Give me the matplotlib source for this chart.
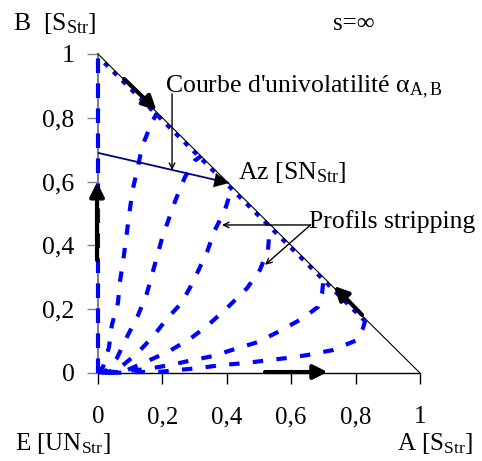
import matplotlib
matplotlib.use("Agg")
from matplotlib import pyplot as plt

plt.rcParams['font.family'] = ['Liberation Serif', 'DejaVu Serif']
plt.rcParams['mathtext.fontset'] = 'custom'
plt.rcParams['mathtext.rm'] = 'Liberation Serif'
plt.rcParams['mathtext.it'] = 'Liberation Serif:italic'

# profils stripping (fractions A, B)
c1_x = [0.0, 0.0]
c1_y = [0.0, 1.0]
c2_x = [0.0, 0.016, 0.034, 0.043, 0.062, 0.068, 0.078, 0.100, 0.109, 0.124, 0.137, 0.168, 0.183]
c2_y = [0.0, 0.020, 0.080, 0.150, 0.220, 0.285, 0.350, 0.520, 0.580, 0.646, 0.710, 0.787, 0.815]
c3_x = [0.0, 0.030, 0.059, 0.090, 0.124, 0.152, 0.200, 0.240, 0.270, 0.300, 0.320]
c3_y = [0.0, 0.010, 0.047, 0.113, 0.180, 0.250, 0.426, 0.540, 0.614, 0.665, 0.680]
c4_x = [0.01, 0.060, 0.120, 0.170, 0.214, 0.260, 0.295, 0.339, 0.363, 0.394, 0.416]
c4_y = [0.0, 0.010, 0.060, 0.113, 0.170, 0.220, 0.285, 0.380, 0.448, 0.510, 0.580]
c5_x = [0.02, 0.093, 0.155, 0.217, 0.286, 0.342, 0.404, 0.463, 0.503, 0.528, 0.534]
c5_y = [0.0, 0.010, 0.038, 0.066, 0.107, 0.150, 0.207, 0.266, 0.323, 0.386, 0.465]
c6_x = [0.03, 0.155, 0.224, 0.292, 0.357, 0.425, 0.497, 0.571, 0.637, 0.683, 0.696, 0.700]
c6_y = [0.0, 0.013, 0.025, 0.040, 0.053, 0.075, 0.097, 0.135, 0.172, 0.207, 0.250, 0.290]
c7_x = [0.04, 0.120, 0.186, 0.255, 0.317, 0.385, 0.457, 0.512, 0.587, 0.649, 0.730, 0.804, 0.823, 0.830]
c7_y = [0.0, 0.003, 0.003, 0.010, 0.016, 0.025, 0.031, 0.038, 0.047, 0.056, 0.072, 0.103, 0.140, 0.165]
# part running along the A-B side
side_x = [0.02, 0.83]
side_y = [0.972, 0.162]

# courbe d'univolatilite
univol_x = [0.0, 0.405]
univol_y = [0.69, 0.596]

ticks = [0, 0.2, 0.4, 0.6, 0.8, 1]
tick_labels = ['0', '0,2', '0,4', '0,6', '0,8', '1']

fig = plt.figure(figsize=(4.82, 4.61), dpi=100)
ax = fig.add_axes([0.2033, 0.1909, 0.668, 0.692])
ax.set_xlim(0, 1)
ax.set_ylim(0, 1)

blue = '#0000ff'
ax.plot(c1_x, c1_y, color=blue, lw=3, ls=(0, (3.5, 2.5)), clip_on=False, zorder=3)
for cx, cy in [(c2_x, c2_y), (c3_x, c3_y), (c4_x, c4_y), (c5_x, c5_y), (c6_x, c6_y), (c7_x, c7_y)]:
    ax.plot(cx, cy, color=blue, lw=3, ls=(0, (2.5, 3.2)), clip_on=False, zorder=3)
ax.plot(side_x, side_y, color=blue, lw=3, ls=(0, (1.2, 1.8)), clip_on=False, zorder=3)

# triangle side
ax.plot([0, 1], [1, 0], color='black', lw=0.8, clip_on=False, zorder=4)
ax.plot(univol_x, univol_y, color='#000080', lw=1.3, zorder=4)
ax.annotate('', xy=(0.415, 0.594), xytext=(0.36, 0.605),
            arrowprops=dict(arrowstyle='-|>', mutation_scale=26, color='black', lw=0.1), zorder=5)

# thick direction arrows
thick = dict(arrowstyle='-|>', mutation_scale=21, color='black', lw=3)
ax.annotate('', xy=(0.188, 0.817), xytext=(0.075, 0.928), arrowprops=thick, annotation_clip=False)
ax.annotate('', xy=(-0.003, 0.607), xytext=(-0.003, 0.345), arrowprops=thick, annotation_clip=False)
ax.annotate('', xy=(0.722, 0.003), xytext=(0.51, 0.003), arrowprops=thick, annotation_clip=False)
ax.annotate('', xy=(0.727, 0.279), xytext=(0.826, 0.176), arrowprops=thick, annotation_clip=False)

# labels with thin arrows
thin = dict(arrowstyle='->', color='black', lw=1.0, shrinkA=0, shrinkB=0)
ax.text(0.208, 0.878, "Courbe d'univolatilité α$_\\mathrm{A,B}$", fontsize=18.5, va='baseline', clip_on=False)
ax.annotate('', xy=(0.23, 0.636), xytext=(0.23, 0.875), arrowprops=thin)
ax.text(0.435, 0.608, 'Az [SN$_\\mathrm{Str}$]', fontsize=18.5, va='baseline')
ax.text(0.655, 0.455, 'Profils stripping', fontsize=18.5, va='baseline', clip_on=False)
ax.annotate('', xy=(0.385, 0.464), xytext=(0.66, 0.464), arrowprops=thin)
ax.annotate('', xy=(0.519, 0.339), xytext=(0.66, 0.464), arrowprops=thin)

fig.text(0.027, 0.935, 'B  [S$_\\mathrm{Str}$]', fontsize=18.5, va='baseline')
fig.text(0.031, 0.024, 'E [UN$_\\mathrm{Str}$]', fontsize=18, va='baseline')
fig.text(0.824, 0.024, 'A [S$_\\mathrm{Str}$]', fontsize=18, va='baseline')
fig.text(0.691, 0.935, 's=∞', fontsize=18, va='baseline')

ax.set_xticks(ticks)
ax.set_xticklabels(tick_labels)
ax.set_yticks(ticks)
ax.set_yticklabels(tick_labels)
ax.tick_params(axis='x', direction='out', length=8, width=1, pad=16, labelsize=18)
ax.tick_params(axis='y', direction='out', length=8, width=1, color='gray', pad=9, labelsize=18.5)
ax.spines['top'].set_visible(False)
ax.spines['right'].set_visible(False)
ax.spines['left'].set_color('gray')
ax.spines['left'].set_linewidth(1.5)
ax.spines['bottom'].set_linewidth(1.0)

fig.savefig('out.png', dpi=100)
